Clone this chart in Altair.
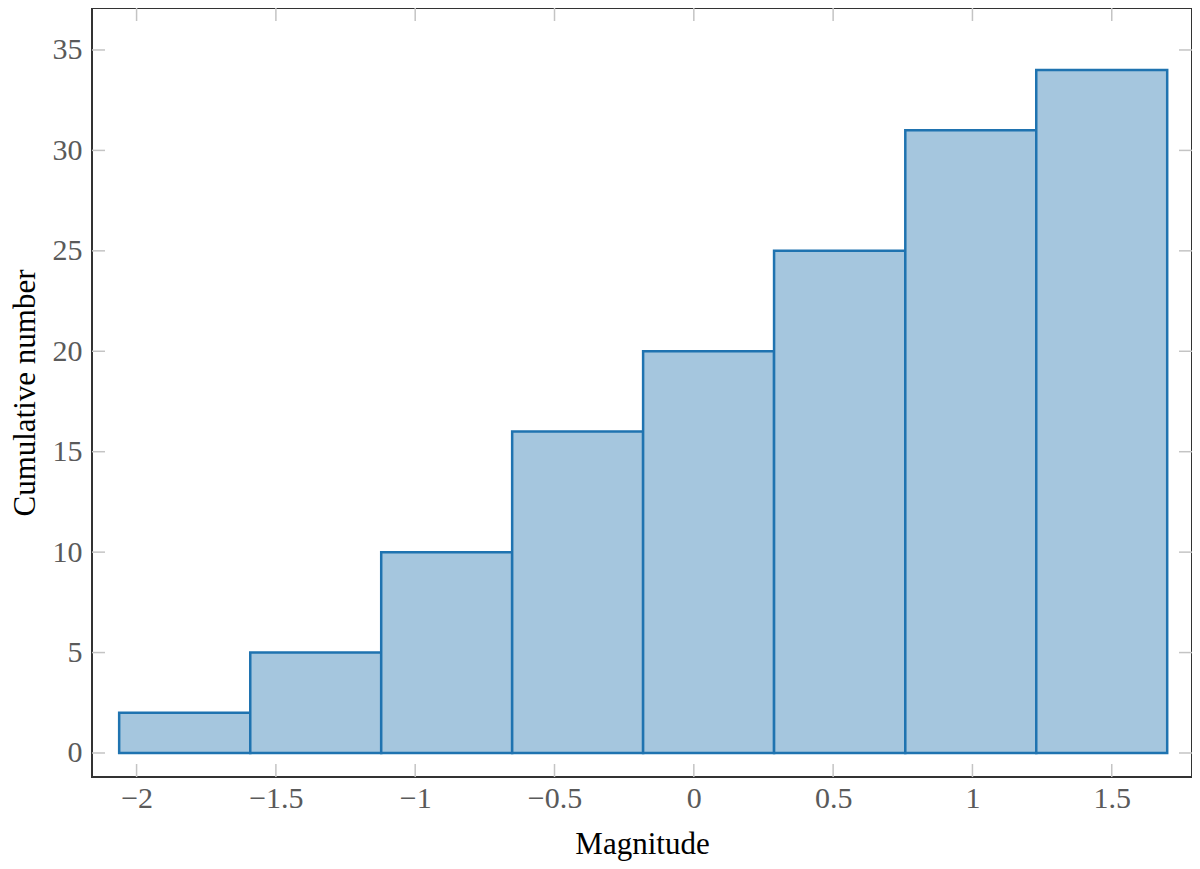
import altair as alt
import pandas as pd

# Histogram bins (cumulative counts)
bin_left = [-2.0625, -1.592, -1.122, -0.652, -0.182, 0.288, 0.759, 1.229]
bin_right = [-1.592, -1.122, -0.652, -0.182, 0.288, 0.759, 1.229, 1.699]
counts = [2, 5, 10, 16, 20, 25, 31, 34]

x_ticks = [-2, -1.5, -1, -0.5, 0, 0.5, 1, 1.5]
y_ticks = [0, 5, 10, 15, 20, 25, 30, 35]

x_domain = [-2.160, 1.788]
y_domain = [-1.195, 37.09]

W, H = 1100, 769
FONT = "Liberation Serif"
TICK_LEN = 13
TICK_COLOR = "#c4c4c4"

bars_df = pd.DataFrame({"x0": bin_left, "x1": bin_right, "count": counts})
xt_df = pd.DataFrame({"v": x_ticks})
yt_df = pd.DataFrame({"v": y_ticks})

xscale = alt.Scale(domain=x_domain, nice=False, zero=False)
yscale = alt.Scale(domain=y_domain, nice=False, zero=False)

x_axis = alt.Axis(
    values=x_ticks, format="~g", ticks=False, domain=False, grid=False,
    labelFont=FONT, labelFontSize=30, labelColor="#5a5a5a", labelPadding=6,
    title="Magnitude", titleFont=FONT, titleFontSize=31, titleFontWeight="normal",
    titleColor="#000000", titlePadding=16,
)
y_axis = alt.Axis(
    values=y_ticks, format="~g", ticks=False, domain=False, grid=False,
    labelFont=FONT, labelFontSize=30, labelColor="#5a5a5a", labelPadding=10,
    title="Cumulative number", titleFont=FONT, titleFontSize=31,
    titleFontWeight="normal", titleColor="#000000", titlePadding=11,
)

bars = alt.Chart(bars_df).mark_rect(
    fill="#a5c6de", stroke="#1f73b0", strokeWidth=2.5
).encode(
    x=alt.X("x0:Q", scale=xscale, axis=x_axis),
    x2="x1:Q",
    y=alt.Y("count:Q", scale=yscale, axis=y_axis),
    y2=alt.datum(0),
)

xt_bottom = alt.Chart(xt_df).mark_rule(color=TICK_COLOR, strokeWidth=1.5).encode(
    x=alt.X("v:Q", scale=xscale, axis=x_axis),
    y=alt.value(H), y2=alt.value(H - TICK_LEN),
)
xt_top = alt.Chart(xt_df).mark_rule(color=TICK_COLOR, strokeWidth=1.5).encode(
    x=alt.X("v:Q", scale=xscale, axis=x_axis),
    y=alt.value(0), y2=alt.value(TICK_LEN),
)
yt_left = alt.Chart(yt_df).mark_rule(color=TICK_COLOR, strokeWidth=1.5).encode(
    y=alt.Y("v:Q", scale=yscale, axis=y_axis),
    x=alt.value(0), x2=alt.value(TICK_LEN),
)
yt_right = alt.Chart(yt_df).mark_rule(color=TICK_COLOR, strokeWidth=1.5).encode(
    y=alt.Y("v:Q", scale=yscale, axis=y_axis),
    x=alt.value(W - TICK_LEN), x2=alt.value(W),
)

chart = alt.layer(bars, xt_bottom, xt_top, yt_left, yt_right).properties(
    width=W, height=H,
    autosize=alt.AutoSizeParams(type="none"),
    padding={"left": 84, "top": 0, "right": 0, "bottom": 84},
    background="white",
).configure_view(
    stroke="#333333", strokeWidth=2
)

chart.save("out.html", embed_options={"renderer": "svg", "actions": False})
